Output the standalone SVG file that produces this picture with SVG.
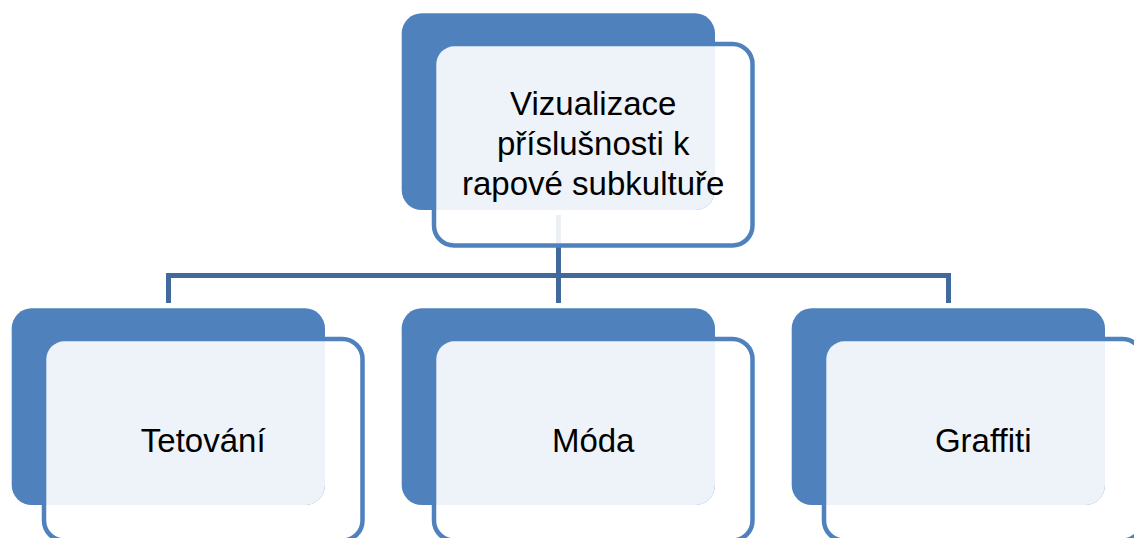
<svg xmlns="http://www.w3.org/2000/svg" width="1134" height="538" viewBox="0 0 1134 538">
<style>
.back{fill:#4F81BD;}
.front{fill:#FFFFFF;fill-opacity:0.9;stroke:#4F81BD;stroke-width:4.5;}
.tint{fill:#FFFFFF;fill-opacity:0.9;}
.conn{fill:none;stroke:#41699C;stroke-width:5;stroke-linejoin:miter;}
text{font-family:"Liberation Sans",Arial,sans-serif;font-size:33px;fill:#000000;text-anchor:middle;}
</style>
<defs>
<clipPath id="backClip"><rect x="0" y="0" width="313.3" height="196.7" rx="20"/></clipPath>
</defs>
<rect x="0" y="0" width="1134" height="538" fill="#FFFFFF"/>
<g id="connectors">
<line class="conn" x1="558.5" y1="215" x2="558.5" y2="303"/>
<polyline class="conn" points="168.5,303 168.5,275.5 948.5,275.5 948.5,303"/>
</g>
<g id="node-top" transform="translate(401.7,13.3)">
<rect class="front" x="32.3" y="30.7" width="318.5" height="201.5" rx="20"/>
<rect class="back" x="0" y="0" width="313.3" height="196.7" rx="20"/>
<rect class="tint" x="34.6" y="33" width="314" height="197" rx="18" clip-path="url(#backClip)"/>
<text x="191.5" y="102">Vizualizace</text>
<text x="191.5" y="142">příslušnosti k</text>
<text x="191.5" y="181.5">rapové subkultuře</text>
</g>
<g id="node-tetovani" transform="translate(11.7,308.3)">
<rect class="front" x="32.3" y="30.7" width="318.5" height="201.5" rx="20"/>
<rect class="back" x="0" y="0" width="313.3" height="196.7" rx="20"/>
<rect class="tint" x="34.6" y="33" width="314" height="197" rx="18" clip-path="url(#backClip)"/>
<text x="191.5" y="143.5">Tetování</text>
</g>
<g id="node-moda" transform="translate(401.7,308.3)">
<rect class="front" x="32.3" y="30.7" width="318.5" height="201.5" rx="20"/>
<rect class="back" x="0" y="0" width="313.3" height="196.7" rx="20"/>
<rect class="tint" x="34.6" y="33" width="314" height="197" rx="18" clip-path="url(#backClip)"/>
<text x="191.5" y="143.5">Móda</text>
</g>
<g id="node-graffiti" transform="translate(791.7,308.3)">
<rect class="front" x="32.3" y="30.7" width="318.5" height="201.5" rx="20"/>
<rect class="back" x="0" y="0" width="313.3" height="196.7" rx="20"/>
<rect class="tint" x="34.6" y="33" width="314" height="197" rx="18" clip-path="url(#backClip)"/>
<text x="191.5" y="143.5">Graffiti</text>
</g>
</svg>
